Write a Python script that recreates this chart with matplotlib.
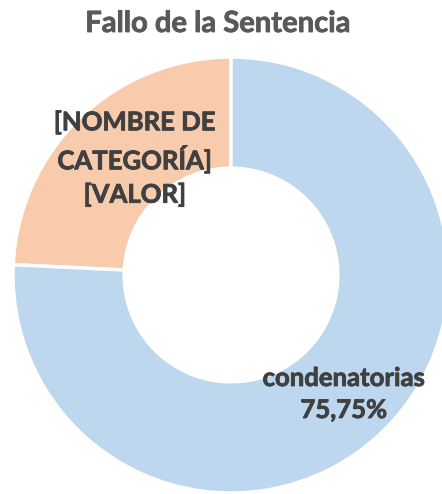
import matplotlib.pyplot as plt
import matplotlib.patheffects as pe

# data
categories = ['[NOMBRE DE\nCATEGORÍA]', 'condenatorias']
values = [24.25, 75.75]
value_labels = ['[VALOR]', '75,75%']
colors = ['#F8CBAD', '#BDD7EE']

plt.rcParams['font.family'] = ['Lato', 'DejaVu Sans']

fig = plt.figure(figsize=(4.42, 4.94), dpi=100)
ax = fig.add_axes([0, 0, 1, 1])

# work in pixel-like units so the ring sits where it does in the original
W, H = 442, 494
cx, cy, R = 231, H - 275, 218

wedges, _ = ax.pie(values, colors=colors, startangle=90, counterclock=True,
                   center=(cx, cy), radius=R, frame=True,
                   wedgeprops=dict(width=R * 0.51, edgecolor='white', linewidth=2.5))
ax.set_xlim(0, W)
ax.set_ylim(0, H)
ax.axis('off')

# a thin stroke makes Lato Bold look closer to the heavier original
txt = dict(ha='center', va='center', fontsize=18.5, fontweight='bold',
           color='#404040', linespacing=1.4,
           path_effects=[pe.withStroke(linewidth=0.6, foreground='#404040')])
ax.text(135, H - 158, categories[0] + '\n' + value_labels[0], **txt)
ax.text(344, H - 394, categories[1] + '\n' + value_labels[1], **txt)

ax.text(218, H - 24, 'Fallo de la Sentencia', ha='center', va='center',
        fontsize=21, fontweight='bold', color='#595959',
        path_effects=[pe.withStroke(linewidth=0.6, foreground='#595959')])

fig.savefig('out.png', dpi=100)
